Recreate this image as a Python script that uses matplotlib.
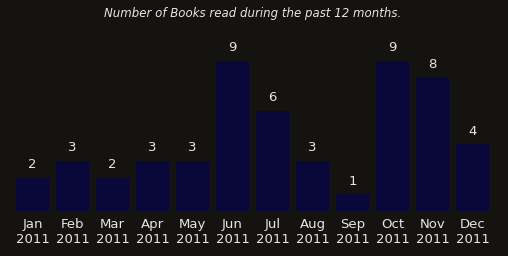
import matplotlib
matplotlib.use("Agg")
import matplotlib.pyplot as plt

months = ["Jan", "Feb", "Mar", "Apr", "May", "Jun", "Jul", "Aug", "Sep", "Oct", "Nov", "Dec"]
year = "2011"
books = [2, 3, 2, 3, 3, 9, 6, 3, 1, 9, 8, 4]
title = "Number of Books read during the past 12 months."

W, H = 508, 256
bg = "#151310"
bar_color = "#08083a"
txt = "#e6e6e6"

fig = plt.figure(figsize=(W / 100, H / 100), dpi=100, facecolor=bg)
ax = fig.add_axes([0, (H - 211) / H, 1, (211 - 40) / H])
ax.set_facecolor(bg)
ax.set_xlim(-32.5 / 40, (W - 32.5) / 40)
ax.set_ylim(0, 171 / 16.7)
x = list(range(len(months)))
ax.bar(x, books, width=0.82, color=bar_color)
for xi, v in zip(x, books):
    ax.annotate(str(v), (xi, v), xytext=(0, 13), textcoords="offset pixels",
                ha="center", va="center", color=txt, fontsize=9.5, annotation_clip=False)
ax.set_xticks(x)
ax.set_xticklabels([f"{m}\n{year}" for m in months], color=txt, fontsize=9.5, linespacing=1.25)
ax.tick_params(axis="x", length=0, pad=5)
ax.set_yticks([])
for s in ax.spines.values():
    s.set_visible(False)
fig.text(253 / W, 1 - 13 / H, title, ha="center", va="center", color=txt,
         fontsize=8.5, style="italic")
fig.savefig("out.png", dpi=100, facecolor=bg)
